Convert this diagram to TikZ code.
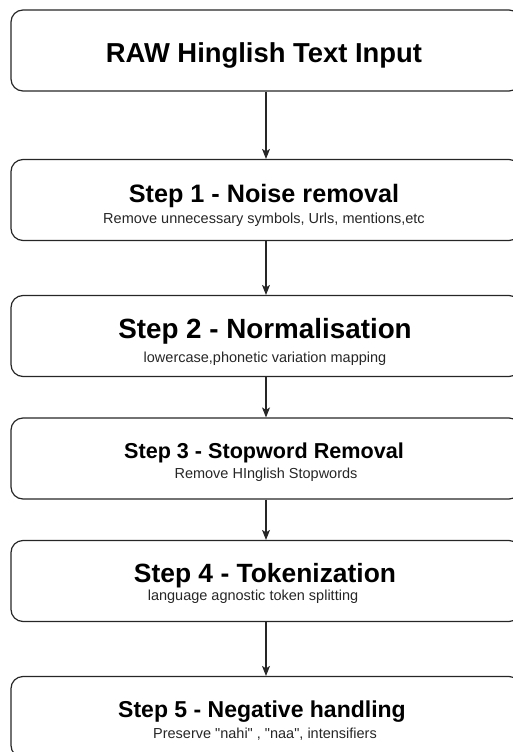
\documentclass[tikz,border=0pt]{standalone}
\usepackage{fontspec}
\setmainfont{Liberation Sans}
\usetikzlibrary{arrows.meta}
\begin{document}
\begin{tikzpicture}[x=1pt,y=-1pt,
  stage/.style={draw=black!85, line width=1.2pt, rounded corners=12pt,
    minimum width=510pt, minimum height=81pt, inner sep=0pt},
  heading/.style={anchor=base, inner sep=0pt, font=\bfseries\fontsize{#1}{#1}\selectfont},
  detail/.style={anchor=base, inner sep=0pt, text=black!85, font=\fontsize{14.5}{14.5}\selectfont},
  flow/.style={draw=black!85, line width=1.1pt, -{Stealth[length=10pt,width=8pt,inset=2.5pt]}}
]
\useasboundingbox (0,0) rectangle (513,752);
\clip (0,0) rectangle (513,752);

% processing stages, top to bottom
\node[stage] (s0) at (266,50.5) {};
\node[stage] (s1) at (266,200)  {};
\node[stage] (s2) at (266,336)  {};
\node[stage] (s3) at (266,458.5) {};
\node[stage] (s4) at (266,581)  {};
\node[stage] (s5) at (266,717)  {};

% stage captions
\node[heading=27.4] (h0) at (264,63) {RAW Hinglish Text Input};

\node[heading=25.2] (h1) at (264,202) {Step 1 - Noise removal};
\node[detail] (d1) at (264,223) {Remove unnecessary symbols, Urls, mentions,etc};

\node[heading=27.8] (h2) at (265,338) {Step 2 - Normalisation};
\node[detail] (d2) at (265,362) {lowercase,phonetic variation mapping};

\node[heading=21.6] (h3) at (264,458) {Step 3 - Stopword Removal};
\node[detail] (d3) at (266,478) {Remove HInglish Stopwords};

\node[heading=26.4] (h4) at (265,582) {Step 4 - Tokenization};
\node[detail] (d4) at (253,600) {language agnostic token splitting};

\node[heading=23.0] (h5) at (262,717) {Step 5 - Negative handling};
\node[detail] (d5) at (265,738) {Preserve \textquotedbl nahi\textquotedbl\ , \textquotedbl naa\textquotedbl, intensifiers};

% pipeline arrows
\draw[flow] (s0.south) -- (s1.north);
\draw[flow] (s1.south) -- (s2.north);
\draw[flow] (s2.south) -- (s3.north);
\draw[flow] (s3.south) -- (s4.north);
\draw[flow] (s4.south) -- (s5.north);
\end{tikzpicture}
\end{document}
